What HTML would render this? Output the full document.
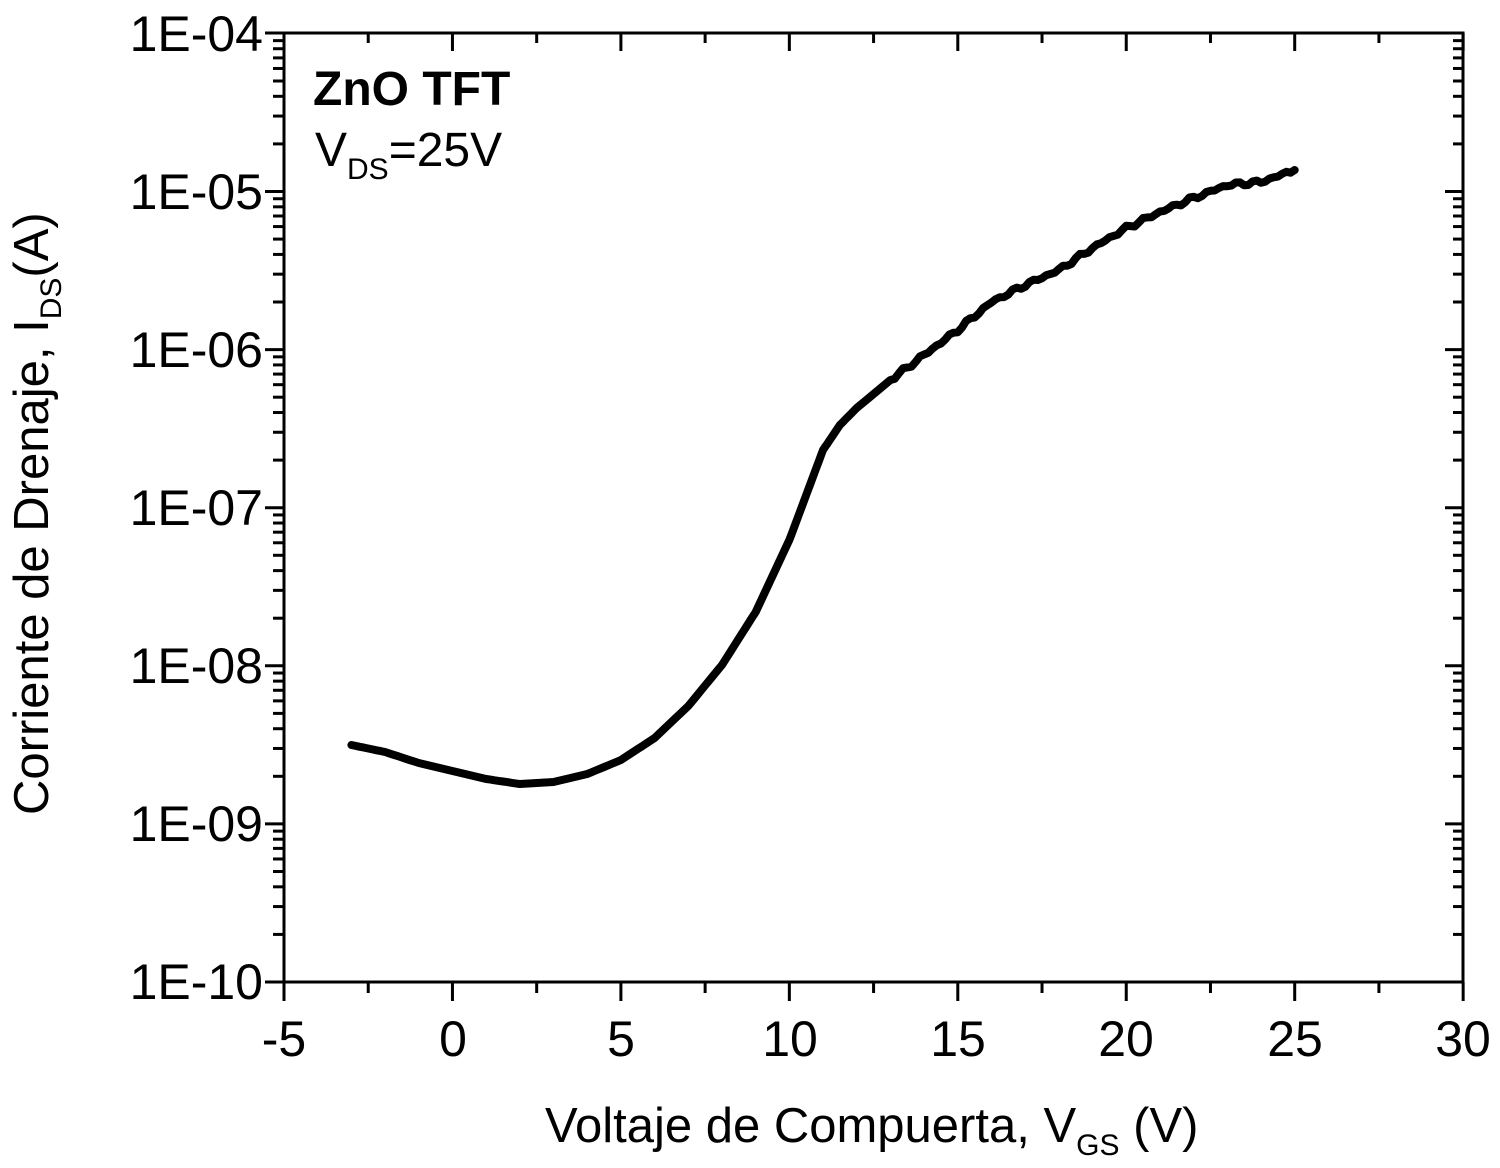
<!DOCTYPE html>
<html><head><meta charset="utf-8"><style>
html,body{margin:0;padding:0;background:#fff;}
svg{display:block;font-family:"Liberation Sans",Arial,sans-serif;}
</style></head><body>
<svg id="s" width="1500" height="1168" viewBox="0 0 1500 1168" xmlns="http://www.w3.org/2000/svg">
<rect width="1500" height="1168" fill="#fff"/>
<g id="ticks" stroke="#000" stroke-width="3"></g>
<rect x="284" y="33" width="1179" height="949" fill="none" stroke="#000" stroke-width="3"/>
<path id="curve" fill="none" stroke="#000" stroke-width="8" stroke-linejoin="round" stroke-linecap="round"/>
<g font-size="50" fill="#000" text-anchor="end">
<text x="263" y="51">1E-04</text>
<text x="263" y="209">1E-05</text>
<text x="263" y="367">1E-06</text>
<text x="263" y="525">1E-07</text>
<text x="263" y="683">1E-08</text>
<text x="263" y="841">1E-09</text>
<text x="263" y="999">1E-10</text>
</g>
<g font-size="50" fill="#000" text-anchor="middle">
<text x="284" y="1056">-5</text>
<text x="453" y="1056">0</text>
<text x="621" y="1056">5</text>
<text x="790" y="1056">10</text>
<text x="958" y="1056">15</text>
<text x="1126" y="1056">20</text>
<text x="1295" y="1056">25</text>
<text x="1463" y="1056">30</text>
</g>
<text x="545" y="1142" font-size="49">Voltaje de Compuerta, V<tspan font-size="30" dy="13">GS</tspan><tspan dy="-13"> (V)</tspan></text>
<text transform="translate(48,815) rotate(-90)" font-size="49">Corriente de Drenaje, I<tspan font-size="30" dy="13">DS</tspan><tspan dy="-13">(A)</tspan></text>
<text x="313" y="105" font-size="48" font-weight="bold">ZnO TFT</text>
<text x="315" y="166" font-size="48">V<tspan font-size="30" dy="13">DS</tspan><tspan dy="-13">=25V</tspan></text>
</svg>
<script>
var L=284,R=1463,T=33,B=982,g=document.getElementById('ticks'),h='';
function ln(a,b,c,d){h+='<line x1="'+a+'" y1="'+b+'" x2="'+c+'" y2="'+d+'"/>';}
var dec=158.1;
for(var k=0;k<6;k++){var y0=B-k*dec;
 for(var m=1;m<=9;m++){var y=y0-Math.log10(m)*dec;
  if(m==1){ln(L-19,y,L,y);ln(R-18,y,R,y);}else{ln(L-11,y,L,y);ln(R-10,y,R,y);}}}
ln(L-19,T,L,T);ln(R-18,T,R,T);
var px=33.69;
for(var v=-5;v<=30;v+=2.5){var x=L+(v+5)*px;var maj=(v%5==0);
 ln(x,B,x,B+(maj?19:11));ln(x,T,x,T+(maj?18:10));}
g.innerHTML=h;
var d=[[-3,745],[-2,752],[-1,763],[0,771],[1,779],[2,784],[3,782],[4,774],[5,760],[6,738],[7,706],[8,665],[9,612],[10,540],[10.5,495],[11,450],[11.5,425],[12,408],[13,380],[14,355],[15,330],[16,302],[17,285],[18,270],[19,248],[20,228],[21,212],[22,198],[23,185],[24,182],[25,170]];
var p='';
for(var i=0;i<d.length-1;i++){var a=d[i],b=d[i+1];for(var t=0;t<8;t++){var v=a[0]+(b[0]-a[0])*t/8,y=a[1]+(b[1]-a[1])*t/8;
 var n=(v>13)?(Math.sin(v*37)*1.5+Math.sin(v*91)*1):0;
 p+=(p?'L':'M')+(L+(v+5)*px).toFixed(1)+' '+(y+n).toFixed(1);}}
p+='L'+(L+30*px).toFixed(1)+' 170';
document.getElementById('curve').setAttribute('d',p);
</script>
</body></html>
